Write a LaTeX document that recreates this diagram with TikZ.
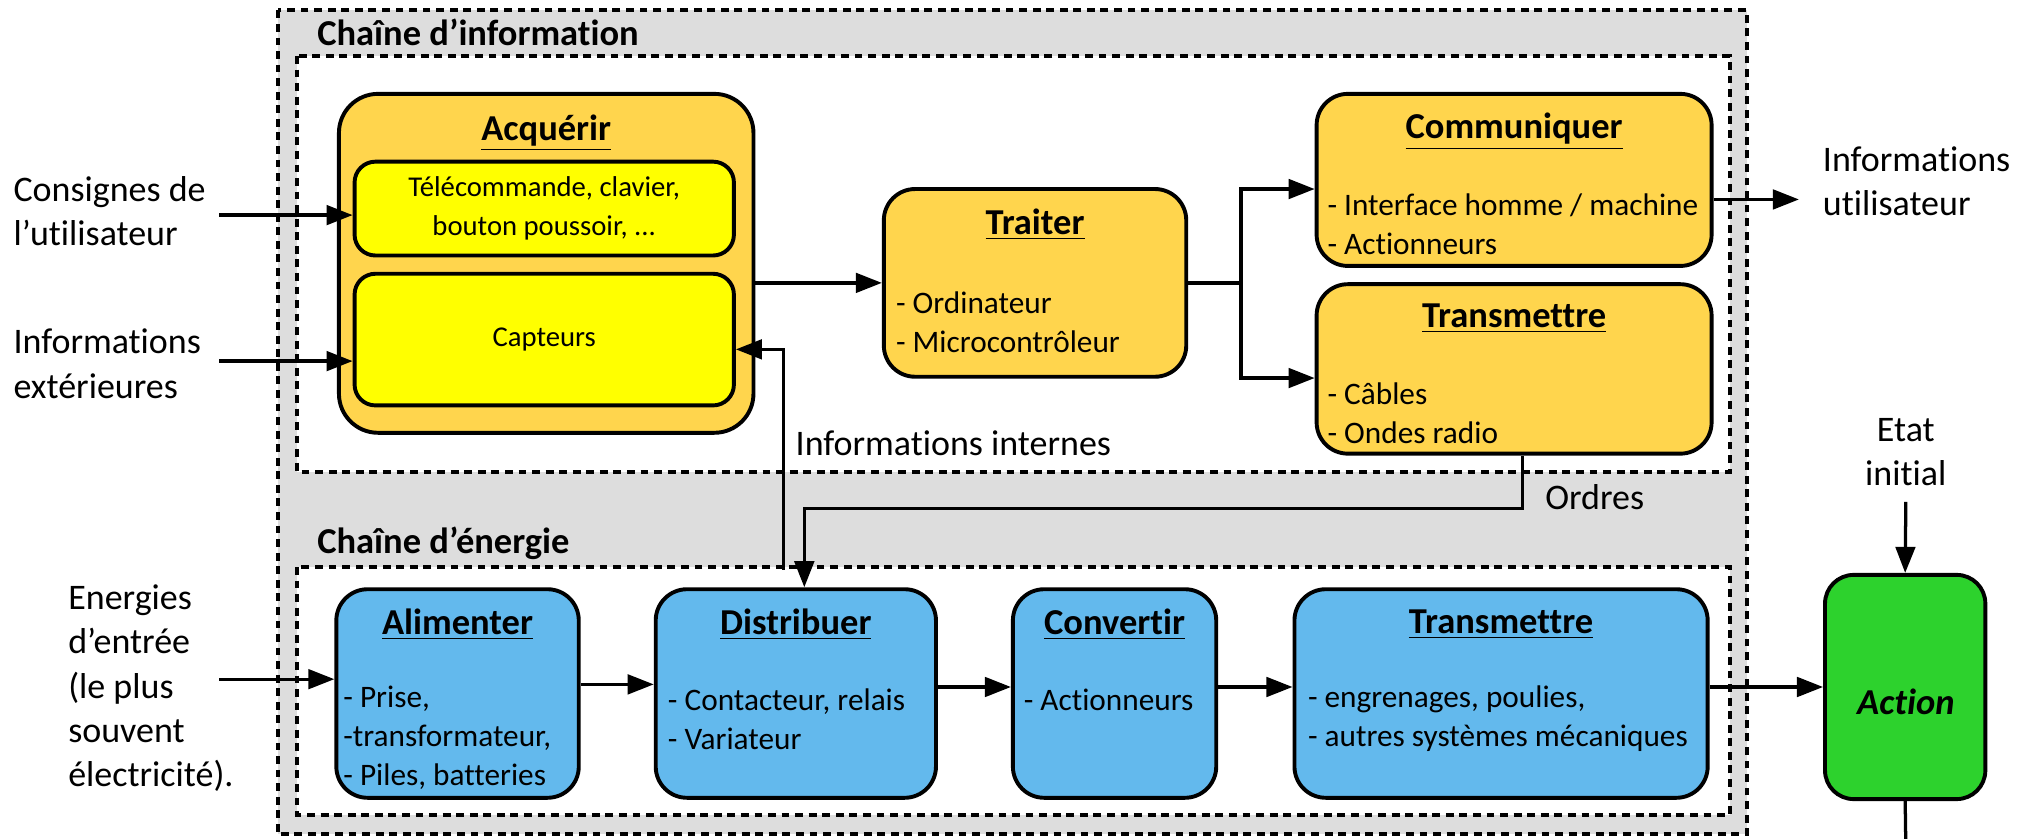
\documentclass[tikz,border=0pt]{standalone}
\usepackage{fontspec}
\setmainfont[Ligatures=NoCommon]{Carlito}
\usetikzlibrary{arrows.meta}
\definecolor{infoY}{RGB}{255,213,77}
\definecolor{capY}{RGB}{255,255,0}
\definecolor{enB}{RGB}{99,185,237}
\definecolor{actG}{RGB}{45,210,45}
\definecolor{bgG}{RGB}{221,221,221}
\tikzset{
  box/.style={draw, line width=1.5pt, rounded corners=12pt, inner sep=0pt},
  arr/.style={line width=1.25pt, -{Triangle[length=10pt,width=7.5pt]}},
  ln/.style={line width=1.25pt},
  dbox/.style={draw, line width=1.5pt, dash pattern=on 3pt off 2.2pt},
  lbl/.style={font=\fontsize{13.8}{17}\selectfont, inner sep=0pt, align=left},
  items/.style={font=\fontsize{12}{15}\selectfont, inner sep=0pt, align=left},
  inner/.style={font=\fontsize{11}{15}\selectfont, align=center},
  ttl/.style={font=\fontsize{14}{16}\selectfont\bfseries, inner sep=0pt},
}
\begin{document}
\begin{tikzpicture}[x=0.5pt,y=-0.5pt]
\useasboundingbox (0,0) rectangle (1568,643.6);
% frames
\draw[dbox, fill=bgG] (213,8) rectangle (1340,640);
\draw[dbox, fill=white] (228,43) rectangle (1327,362);
\draw[dbox, fill=white] (228,435) rectangle (1327,625);
\node[ttl, anchor=west] (lblI) at (243,25) {Chaîne d'information};
\node[ttl, anchor=west] (lblE) at (243,417) {Chaîne d'énergie};

% information chain boxes
\node[box, fill=infoY, rounded corners=15pt, minimum width=159pt, minimum height=130pt] (acq) at (419,202) {};
\node[ttl] (acqT) at (419,102) {\underline{Acquérir}};
\node[box, fill=capY, rounded corners=8pt, minimum width=145.5pt, minimum height=36pt, inner] (in1) at (417.5,160) {Télécommande, clavier,\\bouton poussoir, ...};
\node[box, fill=capY, rounded corners=8pt, minimum width=145.5pt, minimum height=50.5pt, inner] (in2) at (417.5,260.5) {Capteurs};

\node[box, fill=infoY, minimum width=116pt, minimum height=72pt] (trait) at (794,217) {};
\node[ttl] (traitT) at (794,172) {\underline{Traiter}};
\node[items, anchor=west] (traitI) at (687,247) {- Ordinateur\\- Microcontrôleur};

\node[box, fill=infoY, minimum width=151.5pt, minimum height=66pt] (comm) at (1161.5,138) {};
\node[ttl] (commT) at (1161.5,101) {\underline{Communiquer}};
\node[items, anchor=west] (commI) at (1018,172) {- Interface homme / machine\\- Actionneurs};

\node[box, fill=infoY, minimum width=151.5pt, minimum height=65pt] (transI) at (1161.5,283) {};
\node[ttl] (transIT) at (1161.5,244) {\underline{Transmettre}};
\node[items, anchor=west] (transII) at (1018,317) {- Câbles\\- Ondes radio};

% energy chain boxes
\node[box, fill=enB, minimum width=93pt, minimum height=80pt] (alim) at (351,532) {};
\node[ttl] (alimT) at (351,479) {\underline{Alimenter}};
\node[items, anchor=west] (alimI) at (263,566) {- Prise,\\-transformateur,\\- Piles, batteries};

\node[box, fill=enB, minimum width=107.5pt, minimum height=80pt] (dist) at (610.5,532) {};
\node[ttl] (distT) at (610.5,479) {\underline{Distribuer}};
\node[items, anchor=west] (distI) at (512,552) {- Contacteur, relais\\- Variateur};

\node[box, fill=enB, minimum width=78pt, minimum height=80pt] (conv) at (855,532) {};
\node[ttl] (convT) at (855,479) {\underline{Convertir}};
\node[items, anchor=west] (convI) at (785,537) {- Actionneurs};

\node[box, fill=enB, minimum width=158.5pt, minimum height=80pt] (transE) at (1151.5,532) {};
\node[ttl] (transET) at (1151.5,479) {\underline{Transmettre}};
\node[items, anchor=west] (transEI) at (1003,551.5) {- engrenages, poulies,\\- autres systèmes mécaniques};

\node[box, fill=actG, rounded corners=11pt, minimum width=61.5pt, minimum height=86pt] (act) at (1461.5,527) {};
\node[font=\fontsize{14}{16}\selectfont\bfseries\itshape, inner sep=0pt] (actT) at (1462,538) {Action};

% outside labels
\node[lbl, anchor=west] (cons) at (10,162) {Consignes de\\l’utilisateur};
\node[lbl, anchor=west] (ext) at (10,279) {Informations\\extérieures};
\node[lbl, anchor=west] (ener) at (52,528) {Energies\\d’entrée\\(le plus\\souvent\\électricité).};
\node[lbl, anchor=west] (util) at (1398,139) {Informations\\utilisateur};
\node[lbl, align=center] (etat) at (1462,347) {Etat\\initial};
\node[lbl, anchor=west] (iint) at (610,340) {Informations internes};
\node[lbl, anchor=west] (ord) at (1185,381) {Ordres};

% connectors
\coordinate (c1) at (168,165);
\draw[arr] (c1) -- (c1 -| in1.west);
\coordinate (c2) at (168,277);
\draw[arr] (c2) -- (c2 -| in2.west);
\draw[arr] (acq.east |- trait.west) -- (trait.west);
\coordinate (split) at (952,217);
\coordinate (sc) at (952,145);
\coordinate (st) at (952,290);
\draw[ln] (trait.east |- split) -- (split);
\draw[arr] (split) -- (sc) -- (sc -| comm.west);
\draw[arr] (split) -- (st) -- (st -| transI.west);
\coordinate (u1) at (1380,153);
\draw[arr] (u1 -| comm.east) -- (u1);
\coordinate (ii1) at (601,437);
\coordinate (ii2) at (601,268);
\draw[arr] (ii1) -- (ii2) -- (ii2 -| in2.east);
\coordinate (o1) at (1168,390);
\coordinate (o2) at (617,390);
\draw[arr] (o1 |- transI.south) -- (o1) -- (o2) -- (o2 |- dist.north);
\coordinate (e1) at (168,521);
\draw[arr] (e1) -- (e1 -| alim.west);
\coordinate (h1) at (0,525);
\draw[arr] (h1 -| alim.east) -- (h1 -| dist.west);
\coordinate (h2) at (0,527);
\draw[arr] (h2 -| dist.east) -- (h2 -| conv.west);
\draw[arr] (h2 -| conv.east) -- (h2 -| transE.west);
\draw[arr] (h2 -| transE.east) -- (h2 -| act.west);
\coordinate (a1) at (1462,385);
\draw[arr] (a1) -- (act.north);
\coordinate (a2) at (1462,650);
\draw[ln] (act.south) -- (a2);
\end{tikzpicture}
\end{document}
